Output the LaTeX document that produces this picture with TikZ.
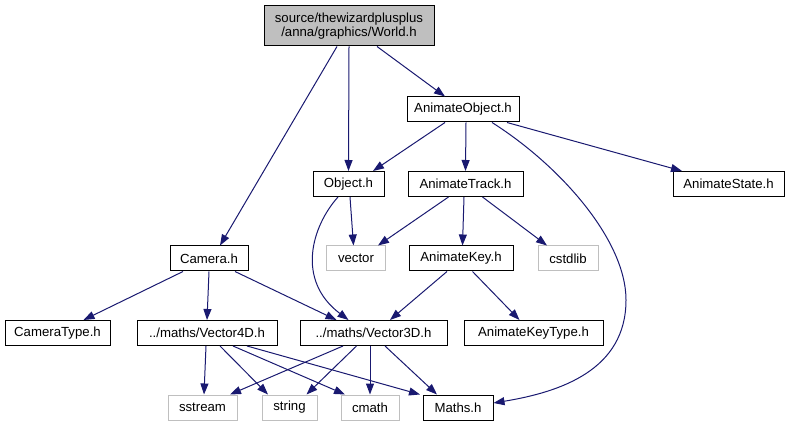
\documentclass[tikz,border=0pt]{standalone}
\usepackage{fontspec}
\setmainfont{Liberation Sans}
\usetikzlibrary{arrows.meta,calc}
\definecolor{edgec}{HTML}{191970}
\definecolor{graybd}{HTML}{BFBFBF}
\begin{document}
\begin{tikzpicture}[x=1pt,y=-1pt,
  box/.style={draw=black, line width=1pt, minimum height=25pt, inner sep=0pt,
    font=\fontsize{13.2}{14.5}\selectfont, anchor=center},
  sysbox/.style={box, draw=graybd},
  conn/.style={draw=edgec, line width=1pt, -{Triangle[length=11pt,width=8pt]}},
]
\useasboundingbox (0,0) rectangle (789,427);
% rank 0
\node[box, fill=graybd, minimum width=170pt, minimum height=40pt, align=center] (world) at (349,26)
  {source/thewizardplusplus\\/anna/graphics/World.h};
% rank 1
\node[box, minimum width=112pt] (aobj) at (463,109.5) {AnimateObject.h};
% rank 2
\node[box, minimum width=71pt] (obj) at (348.5,184) {Object.h};
\node[box, minimum width=115pt] (atrack) at (465.5,184) {AnimateTrack.h};
\node[box, minimum width=111pt] (astate) at (728.5,184) {AnimateState.h};
% rank 3
\node[box, minimum width=78pt] (camera) at (209,258.5) {Camera.h};
\node[sysbox, minimum width=59pt] (vector) at (356,258.5) {vector};
\node[box, minimum width=104pt] (akey) at (461,258.5) {AnimateKey.h};
\node[sysbox, minimum width=60pt] (cstdlib) at (568,258.5) {cstdlib};
% rank 4
\node[box, minimum width=105pt] (cameratype) at (57.5,333) {CameraType.h};
\node[box, minimum width=140pt] (v4d) at (207,333) {../maths/Vector4D.h};
\node[box, minimum width=147pt] (v3d) at (373.5,333) {../maths/Vector3D.h};
\node[box, minimum width=139pt] (akeytype) at (533.5,333) {AnimateKeyType.h};
% rank 5
\node[sysbox, minimum width=69pt] (sstream) at (202.5,407.5) {sstream};
\node[sysbox, minimum width=55pt] (string) at (289.5,407.5) {string};
\node[sysbox, minimum width=58pt] (cmath) at (370,407.5) {cmath};
\node[box, minimum width=70pt] (maths) at (458,407.5) {Maths.h};
\coordinate (bend) at (626,300);

% edges
\draw[conn] ([xshift=-12pt]world.south) -- ([xshift=11pt]camera.north);
\draw[conn] (world.south) -- (obj.north);
\draw[conn] ([xshift=28pt]world.south) -- ([xshift=-18pt]aobj.north);

\draw[conn] ([xshift=-18pt]aobj.south) -- ([xshift=24.5pt]obj.north);
\draw[conn] ([xshift=3pt]aobj.south) -- (atrack.north);
\draw[conn] ([xshift=44pt]aobj.south) -- ([xshift=-46.5pt]astate.north);
\draw[conn] ([xshift=29pt]aobj.south) .. controls +(68,43) and +(0,-60) .. (bend)
  .. controls +(0,70) and +(67,-11) .. ([yshift=4.5pt]maths.east);

\draw[conn] ([xshift=1.5pt]obj.south) -- ([xshift=-2.5pt]vector.north);
\draw[conn] ([xshift=-10.5pt]obj.south) .. controls +(-26,29) and +(-53,-40) .. ([xshift=-25pt]v3d.north);

\draw[conn] ([xshift=-17pt]atrack.south) -- ([xshift=22pt]vector.north);
\draw[conn] ([xshift=-1.5pt]atrack.south) -- ([xshift=1.5pt]akey.north);
\draw[conn] ([xshift=17pt]atrack.south) -- ([xshift=-21pt]cstdlib.north);

\draw[conn] ([xshift=-26pt]camera.south) -- ([xshift=26pt]cameratype.north);
\draw[conn] (camera.south) -- (v4d.north);
\draw[conn] ([xshift=26pt]camera.south) -- ([xshift=-37pt]v3d.north);

\draw[conn] ([xshift=-14pt]akey.south) -- ([xshift=16.5pt]v3d.north);
\draw[conn] ([xshift=11.5pt]akey.south) -- ([xshift=-14pt]akeytype.north);

\draw[conn] ([xshift=-1pt]v4d.south) -- ([xshift=1.5pt]sstream.north);
\draw[conn] ([xshift=13pt]v4d.south) -- ([xshift=-21.5pt]string.north);
\draw[conn] ([xshift=26pt]v4d.south) -- ([xshift=-25pt]cmath.north);
\draw[conn] ([xshift=40pt]v4d.south) -- ([xshift=-38pt]maths.north);

\draw[conn] ([xshift=-30.5pt]v3d.south) -- ([xshift=27.5pt]sstream.north);
\draw[conn] ([xshift=-17pt]v3d.south) -- ([xshift=17pt]string.north);
\draw[conn] ([xshift=-3.5pt]v3d.south) -- (cmath.north);
\draw[conn] ([xshift=11.5pt]v3d.south) -- ([xshift=-21pt]maths.north);
\end{tikzpicture}
\end{document}
